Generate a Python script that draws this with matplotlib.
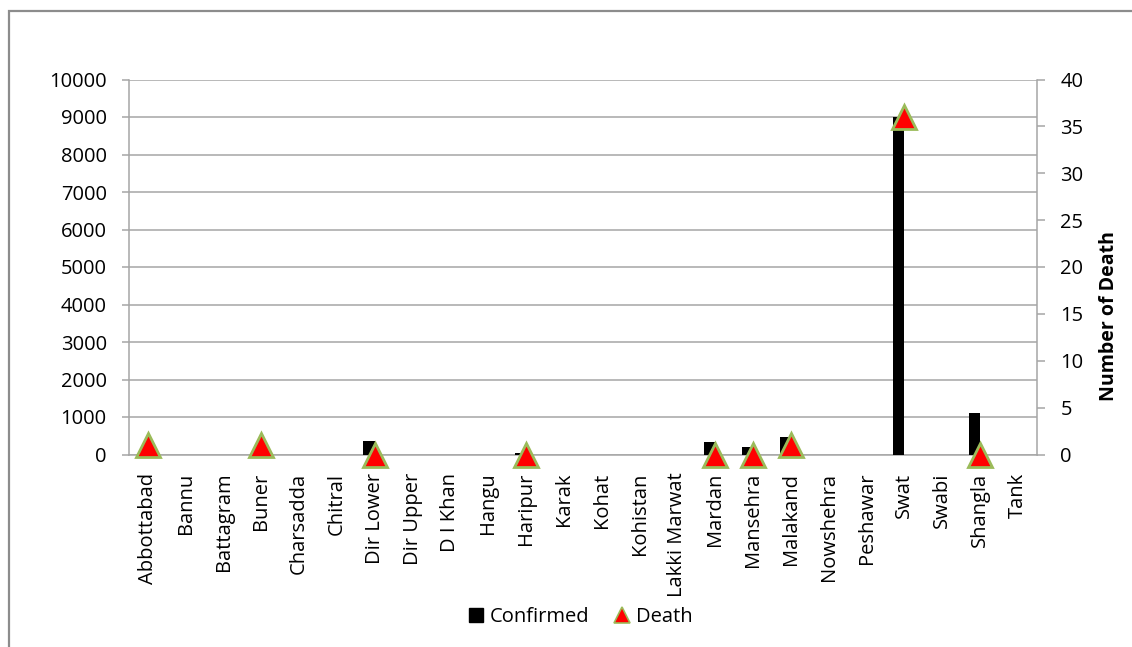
import numpy as np
import matplotlib
matplotlib.use("Agg")
import matplotlib.pyplot as plt
from matplotlib.lines import Line2D
from matplotlib.patches import Rectangle

plt.rcParams['font.family'] = ['Open Sans', 'DejaVu Sans']

districts = ["Abbottabad", "Bannu", "Battagram", "Buner", "Charsadda", "Chitral",
             "Dir Lower", "Dir Upper", "D I Khan", "Hangu", "Haripur", "Karak",
             "Kohat", "Kohistan", "Lakki Marwat", "Mardan", "Mansehra", "Malakand",
             "Nowshehra", "Peshawar", "Swat", "Swabi", "Shangla", "Tank"]

nan = np.nan
confirmed = [nan, nan, nan, nan, nan, nan,
             350, nan, nan, nan, 45, nan,
             nan, nan, nan, 330, 200, 480,
             nan, nan, 9000, nan, 1120, nan]

deaths = [1, nan, nan, 1, nan, nan,
          0, nan, nan, nan, 0, nan,
          nan, nan, nan, 0, 0, 1,
          nan, nan, 36, nan, 0, nan]

W, H = 1132, 647
fig = plt.figure(figsize=(W / 100, H / 100), dpi=100)

# chart-area frame
fig.patches.append(Rectangle((9 / W, -0.05), 1.2, 1 - 11 / H + 0.05,
                             transform=fig.transFigure, fill=False,
                             edgecolor="#8c8c8c", linewidth=1.6, zorder=0))

ax = fig.add_axes([129 / W, 1 - 454.5 / H, (1036.7 - 129) / W, (454.5 - 79.5) / H])
x = np.arange(len(districts))

grid_c = "#a6a6a6"
ax.bar(x, confirmed, width=0.3, align="edge", color="black", zorder=3)
# bars sit just left of each category centre
for p in ax.patches:
    p.set_x(p.get_x() - 0.3)

ax.set_xlim(-0.5, len(districts) - 0.5)
ax.set_ylim(0, 10000)
ax.set_yticks(np.arange(0, 10001, 1000))
ax.yaxis.grid(True, color=grid_c, linewidth=1.1, zorder=0)
ax.set_axisbelow(True)
ax.set_xticks(x)
ax.set_xticklabels(districts, rotation=90, fontsize=14.5)
ax.tick_params(axis="x", length=0, pad=13)
ax.tick_params(axis="y", labelsize=14.5, length=5, color=grid_c, width=1.1, pad=11)
for s in ["left", "bottom"]:
    ax.spines[s].set_color(grid_c)
    ax.spines[s].set_linewidth(1.1)
ax.spines["top"].set_visible(False)
ax.spines["right"].set_visible(False)

ax2 = ax.twinx()
ax2.set_ylim(0, 40)
ax2.set_yticks(np.arange(0, 41, 5))
ax2.tick_params(axis="y", labelsize=14.5, length=6, color=grid_c, width=1.1, pad=11)
for s in ["left", "top", "bottom"]:
    ax2.spines[s].set_visible(False)
ax2.spines["right"].set_color(grid_c)
ax2.spines["right"].set_linewidth(1.1)
ax2.plot(x, deaths, linestyle="none", marker="^", markersize=17,
         markerfacecolor="#ff0000", markeredgecolor="#9bbb59",
         markeredgewidth=2.0, zorder=5, clip_on=False)

fig.text(1109 / W, 1 - 316 / H, "Number of Death", rotation=90, fontsize=14,
         fontweight="bold", ha="center", va="center")

handles = [Line2D([], [], linestyle="none", marker="s", markersize=10,
                  markerfacecolor="black", markeredgecolor="black"),
           Line2D([], [], linestyle="none", marker="^", markersize=12,
                  markerfacecolor="#ff0000", markeredgecolor="#9bbb59",
                  markeredgewidth=1.2)]
fig.legend(handles, ["Confirmed", "Death"], loc="center",
           bbox_to_anchor=(580 / W, 1 - 617 / H), ncol=2, frameon=False,
           fontsize=14.5, handlelength=0.8, handletextpad=0.3, columnspacing=1.2)

fig.savefig("out.png", dpi=100)
